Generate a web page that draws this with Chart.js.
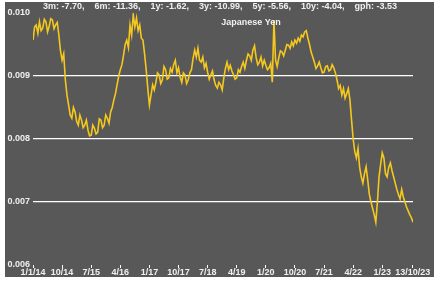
<!DOCTYPE html>
<html>
<head>
<meta charset="utf-8">
<script src="https://cdn.jsdelivr.net/npm/chart.js@4.4.0/dist/chart.umd.min.js"></script>
<style>
  html, body { margin: 0; padding: 0; background: #fff; }
</style>
</head>
<body>
<canvas id="yenChart" width="445" height="282"></canvas>
<script>
// x positions are months since 1/1/14, one point every half month
const stepMonths = 0.5;
const tickMonths = [0, 9, 18, 27, 36, 45, 54, 63, 72, 81, 90, 99, 108, 117.4];
const tickLabels = ["1/1/14", "10/14", "7/15", "4/16", "1/17", "10/17", "7/18",
                    "4/19", "1/20", "10/20", "7/21", "4/22", "1/23", "13/10/23"];
const yTicks = [0.006, 0.007, 0.008, 0.009, 0.010];
const stats = ["3m: -7.70,", "6m: -11.36,", "1y: -1.62,", "3y: -10.99,",
               "5y: -5.56,", "10y: -4.04,", "gph: -3.53"];
const seriesName = "Japanese Yen";

const yen = [
  0.00957, 0.00978, 0.00981, 0.00968, 0.00986, 0.00972, 0.00976, 0.00990,
  0.00986, 0.00970, 0.00979, 0.00991, 0.00989, 0.00975, 0.00981, 0.00985,
  0.00965, 0.00940, 0.00925, 0.00935, 0.00894, 0.00870, 0.00854, 0.00838,
  0.00833, 0.00850, 0.00843, 0.00828, 0.00822, 0.00838, 0.00830, 0.00818,
  0.00822, 0.00830, 0.00814, 0.00805, 0.00806, 0.00822, 0.00817, 0.00808,
  0.00811, 0.00832, 0.00830, 0.00818, 0.00822, 0.00838, 0.00833, 0.00825,
  0.00843, 0.00850, 0.00862, 0.00872, 0.00886, 0.00900, 0.00910, 0.00918,
  0.00933, 0.00950, 0.00957, 0.00945, 0.00981, 0.00965, 0.00997, 0.00978,
  0.00992, 0.00972, 0.00981, 0.00960, 0.00957, 0.00935, 0.00910, 0.00880,
  0.00854, 0.00870, 0.00886, 0.00878, 0.00890, 0.00905, 0.00902, 0.00888,
  0.00894, 0.00915, 0.00910, 0.00895, 0.00897, 0.00912, 0.00906, 0.00918,
  0.00925, 0.00905, 0.00913, 0.00898, 0.00890, 0.00905, 0.00902, 0.00888,
  0.00894, 0.00905, 0.00910, 0.00928, 0.00941, 0.00930, 0.00944, 0.00925,
  0.00922, 0.00930, 0.00913, 0.00920, 0.00906, 0.00895, 0.00902, 0.00908,
  0.00894, 0.00885, 0.00881, 0.00890, 0.00886, 0.00878, 0.00897, 0.00912,
  0.00922, 0.00910, 0.00917, 0.00908, 0.00902, 0.00895, 0.00897, 0.00910,
  0.00906, 0.00915, 0.00922, 0.00912, 0.00925, 0.00935, 0.00932, 0.00925,
  0.00941, 0.00948, 0.00929, 0.00918, 0.00922, 0.00930, 0.00916, 0.00925,
  0.00917, 0.00910, 0.00913, 0.00920, 0.00890, 0.00989, 0.00925, 0.00915,
  0.00929, 0.00940, 0.00938, 0.00932, 0.00941, 0.00950, 0.00949, 0.00944,
  0.00954, 0.00948, 0.00957, 0.00952, 0.00960, 0.00955, 0.00965, 0.00962,
  0.00970, 0.00972, 0.00960, 0.00950, 0.00938, 0.00930, 0.00922, 0.00912,
  0.00916, 0.00922, 0.00913, 0.00905, 0.00906, 0.00915, 0.00916, 0.00908,
  0.00910, 0.00918, 0.00913, 0.00905, 0.00894, 0.00880, 0.00885, 0.00870,
  0.00880, 0.00865, 0.00872, 0.00880, 0.00862, 0.00830, 0.00800, 0.00780,
  0.00770, 0.00785, 0.00755, 0.00740, 0.00730, 0.00745, 0.00756, 0.00735,
  0.00712, 0.00700, 0.00690, 0.00680, 0.00668, 0.00700, 0.00740, 0.00760,
  0.00778, 0.00770, 0.00745, 0.00740, 0.00755, 0.00762, 0.00750, 0.00740,
  0.00730, 0.00720, 0.00712, 0.00705, 0.00720, 0.00708, 0.00700, 0.00692,
  0.00686, 0.00680, 0.00675, 0.00668
];

const FONT = "'Liberation Sans', Arial, sans-serif";
const TEXT = "#f0f0f0";

// gray panel behind everything, header texts on top
const panel = {
  id: "panel",
  beforeDraw(chart) {
    const ctx = chart.ctx;
    ctx.save();
    ctx.fillStyle = "#fff";
    ctx.fillRect(0, 0, chart.width, chart.height);
    ctx.fillStyle = "#585858";
    ctx.fillRect(5, 2, 429, 275);
    ctx.restore();
  },
  afterDraw(chart) {
    const ctx = chart.ctx;
    ctx.save();
    ctx.fillStyle = TEXT;
    ctx.font = "bold 9px " + FONT;
    ctx.textAlign = "center";
    ctx.textBaseline = "middle";
    ctx.fillText(stats.join("    "), 220, 7);
    ctx.fillText(seriesName, 251, 23);
    ctx.restore();
  }
};

new Chart(document.getElementById("yenChart"), {
  type: "line",
  data: {
    datasets: [{
      label: seriesName,
      data: yen.map((v, i) => ({ x: i * stepMonths, y: v })),
      borderColor: "#f4c81c",
      borderWidth: 1.6,
      pointRadius: 0,
      tension: 0,
      fill: false
    }]
  },
  options: {
    responsive: false,
    animation: false,
    devicePixelRatio: 1,
    layout: { padding: { top: 13, right: 32, left: 0, bottom: 0 } },
    plugins: {
      legend: { display: false },
      tooltip: { enabled: false }
    },
    scales: {
      x: {
        type: "linear",
        min: 0,
        max: 117.5,
        afterBuildTicks: s => { s.ticks = tickMonths.map(v => ({ value: v })); },
        afterFit: s => { s.height = 17; },
        border: { display: false },
        grid: { drawOnChartArea: false, tickLength: 3, color: "#fff", lineWidth: 1 },
        ticks: {
          autoSkip: false,
          maxRotation: 0,
          padding: -1,
          color: TEXT,
          font: { family: FONT, size: 9, weight: "bold" },
          callback: (v, i) => tickLabels[i]
        }
      },
      y: {
        min: 0.006,
        max: 0.010,
        afterBuildTicks: s => { s.ticks = yTicks.map(v => ({ value: v })); },
        afterFit: s => { s.width = 33; },
        border: { display: false },
        grid: {
          drawTicks: false,
          lineWidth: 1.2,
          color: c => (c.tick && c.tick.value > 0.0061 && c.tick.value < 0.0099) ? "#fff" : "rgba(0,0,0,0)"
        },
        ticks: {
          padding: 3,
          color: TEXT,
          font: { family: FONT, size: 9, weight: "bold" },
          callback: v => v.toFixed(3)
        }
      }
    }
  },
  plugins: [panel]
});
</script>
</body>
</html>
